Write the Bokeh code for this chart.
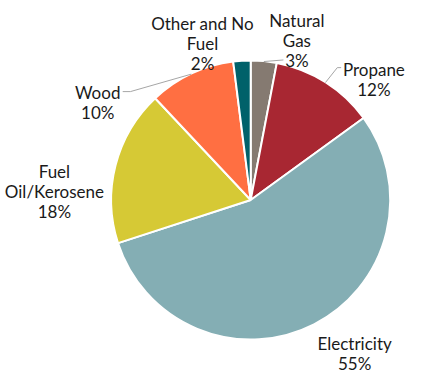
import math
from bokeh.plotting import figure
from bokeh.models import Range1d
from bokeh.core.properties import value
from bokeh.embed import file_html
from bokeh.resources import INLINE

# ---- data ----
categories = ["Natural Gas", "Propane", "Electricity", "Fuel Oil/Kerosene", "Wood", "Other and No Fuel"]
shares = [3, 12, 55, 18, 10, 2]
label_lines = [["Natural", "Gas"], ["Propane"], ["Electricity"], ["Fuel", "Oil/Kerosene"], ["Wood"], ["Other and No", "Fuel"]]
colors = ["#857a71", "#a82732", "#84aeb4", "#d6c935", "#ff6f42", "#00616a"]

# ---- layout (coordinates of the 424x390 reference picture) ----
W, H = 424, 390
CX, CY, R = 260, 208, 145
label_pos = [(308, 21), (388, 72), (368, 358), (56, 178), (101, 96), (210, 24)]  # centre x, first baseline
LINE = 21
# leader lines: (elbow, end) for slices that have one
leaders = {0: [(294, 62)], 1: [(350, 70), (354, 70)], 4: [(135, 95), (127, 95)]}

def fy(y):
    return H - y

p = figure(width=W - 16, height=H - 16, output_backend="svg", toolbar_location=None,
           x_range=Range1d(0, W), y_range=Range1d(0, H), min_border=0)
p.axis.visible = False
p.grid.visible = False
p.outline_line_color = None
p.background_fill_color = "white"
p.border_fill_color = "white"

total = float(sum(shares))
cum = 0.0
starts, ends, mids = [], [], []
for s in shares:
    a0 = math.pi / 2 - 2 * math.pi * cum / total
    cum += s
    a1 = math.pi / 2 - 2 * math.pi * cum / total
    starts.append(a0)
    ends.append(a1)
    mids.append((a0 + a1) / 2)

p.wedge(x=[CX] * len(shares), y=[fy(CY)] * len(shares), radius=R,
        start_angle=starts, end_angle=ends, direction="clock",
        fill_color=colors, line_color="white", line_width=2)

for i, pts in leaders.items():
    ax = CX + R * math.cos(mids[i])
    ay = fy(CY) + R * math.sin(mids[i])
    xs = [ax] + [q[0] for q in pts]
    ys = [ay] + [fy(q[1]) for q in pts]
    p.line(xs, ys, line_color="#a6a6a6", line_width=1)

tx, ty, tt = [], [], []
for i, lines in enumerate(label_lines):
    x0, y0 = label_pos[i]
    allines = lines + ["%d%%" % shares[i]]
    for k, t in enumerate(allines):
        tx.append(x0)
        ty.append(fy(y0 + k * LINE))
        tt.append(t)

p.text(x=tx, y=ty, text=tt, text_align="center", text_baseline="alphabetic",
       text_font=value("Lato"), text_font_size="17px", text_color="#1a1a1a")

open("out.html", "w").write(file_html(p, INLINE))
